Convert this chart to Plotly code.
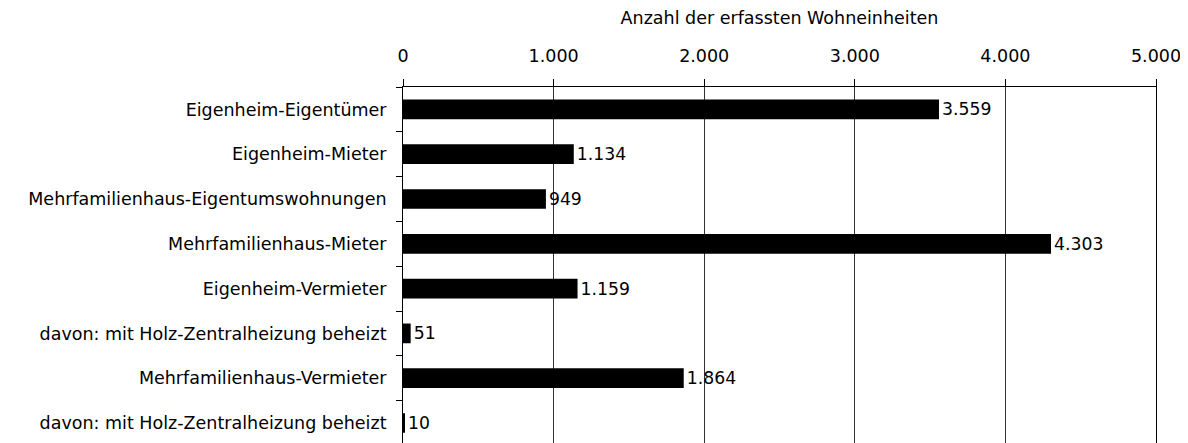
import plotly.graph_objects as go

categories = [
    "Eigenheim-Eigentümer",
    "Eigenheim-Mieter",
    "Mehrfamilienhaus-Eigentumswohnungen",
    "Mehrfamilienhaus-Mieter",
    "Eigenheim-Vermieter",
    "davon: mit Holz-Zentralheizung beheizt",
    "Mehrfamilienhaus-Vermieter",
    "davon: mit Holz-Zentralheizung beheizt",
]
values = [3559, 1134, 949, 4303, 1159, 51, 1864, 10]
x_ticks = [0, 1000, 2000, 3000, 4000, 5000]
x_title = "Anzahl der erfassten Wohneinheiten"

positions = list(range(len(categories)))
boundaries = [p - 0.5 for p in positions] + [positions[-1] + 0.5]

FONT = dict(family="DejaVu Sans", size=17.5, color="black")

fig = go.Figure(
    go.Bar(
        x=values,
        y=positions,
        orientation="h",
        width=0.44,
        marker=dict(color="black", line=dict(width=0)),
        texttemplate="%{x:,}",
        textposition="outside",
        textfont=FONT,
        cliponaxis=False,
    )
)

# the page body has an 8px default margin, so margins are offset by -8px
fig.update_layout(
    width=1188,
    height=443,
    margin=dict(l=395, r=40, t=79, b=0, autoexpand=False),
    paper_bgcolor="white",
    plot_bgcolor="white",
    separators=",.",
    font=FONT,
    showlegend=False,
    xaxis=dict(
        side="top",
        range=[0, 5000],
        tickvals=x_ticks,
        tickformat=",",
        ticks="outside",
        ticklen=7,
        tickcolor="black",
        ticklabelstandoff=10,
        showline=True,
        linecolor="black",
        linewidth=1,
        showgrid=True,
        gridcolor="#333333",
        gridwidth=1,
        zeroline=False,
        automargin=False,
        title=dict(text=x_title, standoff=16, font=FONT),
    ),
    yaxis=dict(
        range=[7.625, -0.5],
        tickvals=positions,
        ticktext=categories,
        ticks="",
        ticklabelstandoff=12,
        showline=True,
        mirror=True,
        linecolor="black",
        linewidth=1,
        showgrid=False,
        zeroline=False,
        automargin=False,
        minor=dict(
            tickmode="array",
            tickvals=boundaries,
            ticks="outside",
            ticklen=6,
            tickcolor="black",
            showgrid=False,
        ),
    ),
)

fig.write_html("out.html")
